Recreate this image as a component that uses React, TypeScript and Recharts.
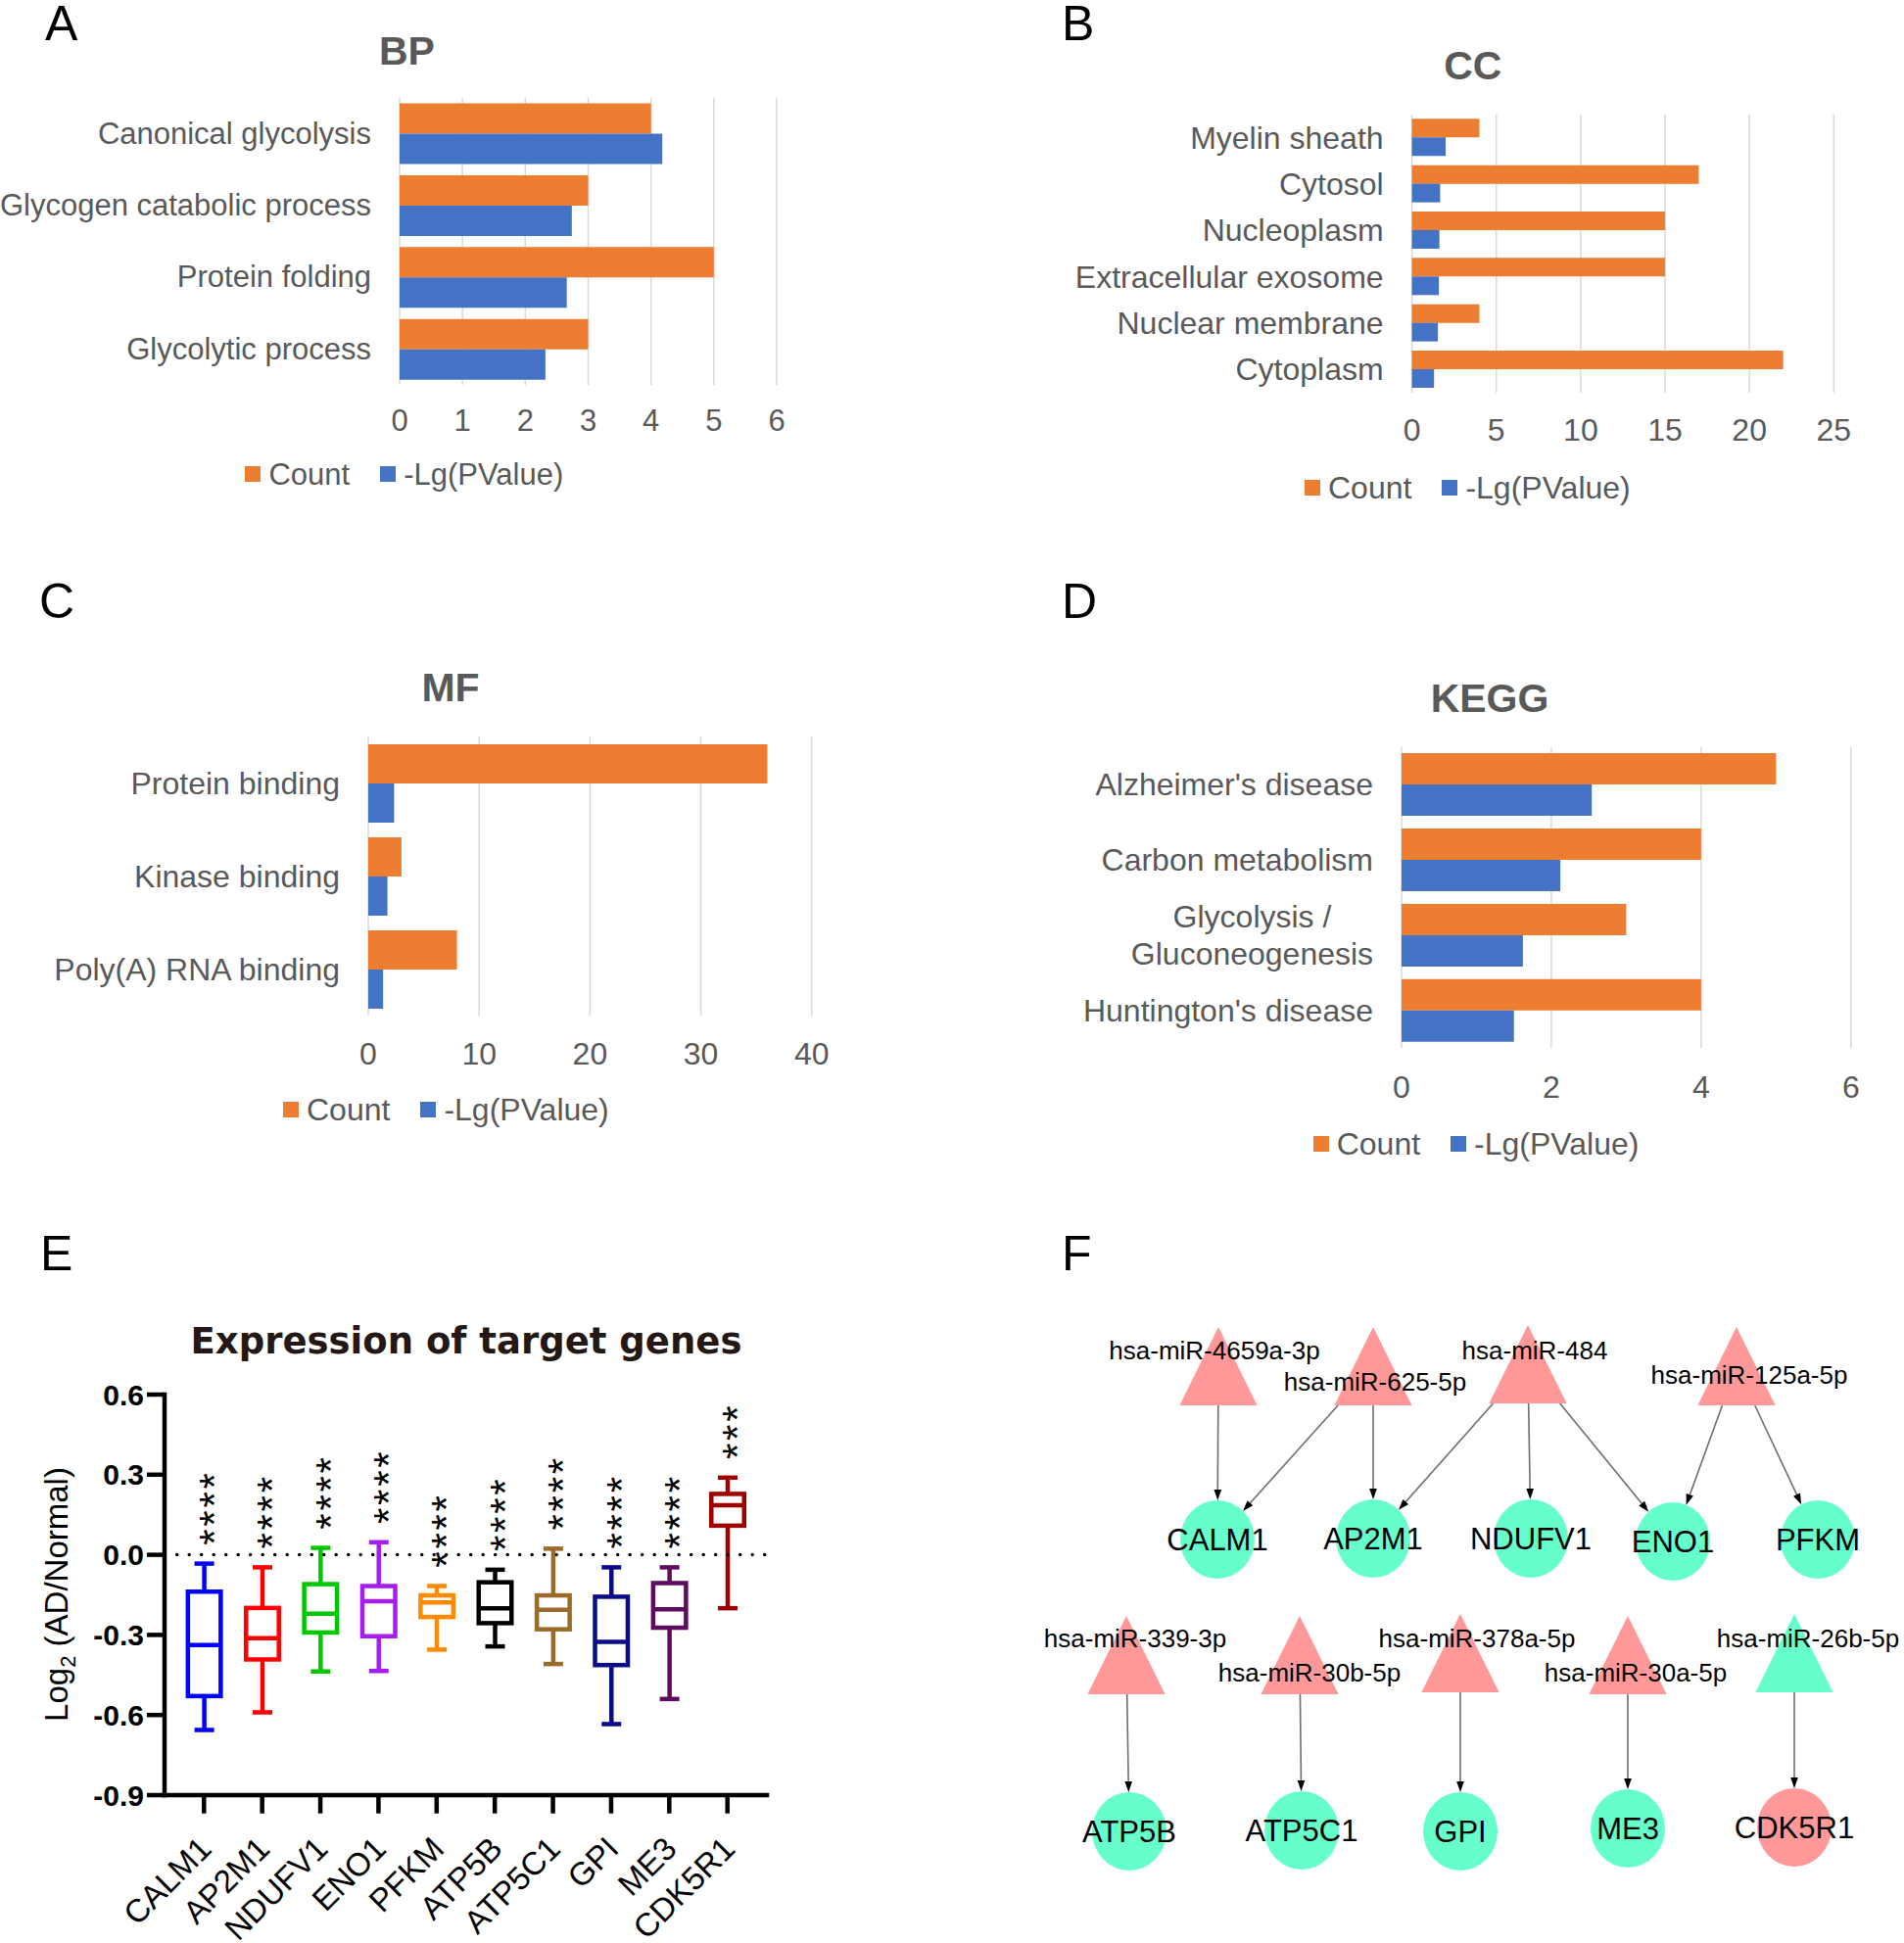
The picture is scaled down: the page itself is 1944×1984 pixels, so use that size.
import React from 'react'
import {
  BarChart, Bar, XAxis, YAxis, CartesianGrid, Legend, ReferenceLine,
  ScatterChart, Scatter,
} from 'recharts'

const FONT = '"Liberation Sans", Arial, Helvetica, sans-serif'
const WIDE = '"DejaVu Sans", Verdana, sans-serif'
const ORANGE = '#ED7D31'
const BLUE = '#4472C4'
const GREY = '#595959'
const GRID = '#D9D9D9'
const PINK = '#FF9999'
const MINT = '#66FFCC'

const seriesNames = ['Count', '-Lg(PValue)']

// A - GO biological process
const bpTerms = ['Canonical glycolysis', 'Glycogen catabolic process', 'Protein folding', 'Glycolytic process']
const bpCount = [4, 3, 5, 3]
const bpLogP = [4.18, 2.74, 2.66, 2.32]
const bpTicks = [0, 1, 2, 3, 4, 5, 6]

// B - GO cellular component
const ccTerms = ['Myelin sheath', 'Cytosol', 'Nucleoplasm', 'Extracellular exosome', 'Nuclear membrane', 'Cytoplasm']
const ccCount = [4, 17, 15, 15, 4, 22]
const ccLogP = [2.0, 1.67, 1.63, 1.6, 1.54, 1.31]
const ccTicks = [0, 5, 10, 15, 20, 25]

// C - GO molecular function
const mfTerms = ['Protein binding', 'Kinase binding', 'Poly(A) RNA binding']
const mfCount = [36, 3, 8]
const mfLogP = [2.33, 1.73, 1.34]
const mfTicks = [0, 10, 20, 30, 40]

// D - KEGG
const keggTerms = ["Alzheimer's disease", 'Carbon metabolism', 'Glycolysis / Gluconeogenesis', "Huntington's disease"]
const keggCount = [5, 4, 3, 4]
const keggLogP = [2.54, 2.12, 1.62, 1.5]
const keggTicks = [0, 2, 4, 6]

// E - expression box plots (log2 AD/Normal)
const genes = ['CALM1', 'AP2M1', 'NDUFV1', 'ENO1', 'PFKM', 'ATP5B', 'ATP5C1', 'GPI', 'ME3', 'CDK5R1']
const geneMin = [-0.656, -0.59, -0.437, -0.435, -0.355, -0.343, -0.409, -0.634, -0.54, -0.2]
const geneQ1 = [-0.529, -0.392, -0.291, -0.305, -0.233, -0.256, -0.279, -0.413, -0.273, 0.109]
const geneMedian = [-0.338, -0.312, -0.221, -0.174, -0.178, -0.2, -0.206, -0.326, -0.204, 0.186]
const geneQ3 = [-0.138, -0.199, -0.11, -0.117, -0.152, -0.103, -0.152, -0.157, -0.106, 0.228]
const geneMax = [-0.033, -0.047, 0.026, 0.047, -0.117, -0.056, 0.023, -0.047, -0.047, 0.289]
const geneStars = ['****', '****', '****', '****', '****', '****', '****', '****', '****', '***']
const exprTicks = [-0.9, -0.6, -0.3, 0, 0.3, 0.6]
const boxColors = ['#0000FF', '#FF0000', '#00C800', '#A61CF2', '#FF8A00', '#000000', '#9C6B29', '#0B0B8A', '#5E0A5E', '#A00000']

// F - miRNA / target network (layout coordinates of the nodes)
const mirNames = ['hsa-miR-4659a-3p', 'hsa-miR-625-5p', 'hsa-miR-484', 'hsa-miR-125a-5p',
  'hsa-miR-339-3p', 'hsa-miR-30b-5p', 'hsa-miR-378a-5p', 'hsa-miR-30a-5p', 'hsa-miR-26b-5p']
const mirX = [284, 442, 600, 813, 190, 367, 531, 702, 872]
const mirY = [175, 175, 173, 175, 470, 470, 468, 470, 468]
const mirReg = ['up', 'up', 'up', 'up', 'up', 'up', 'up', 'up', 'down']
const targetNames = ['CALM1', 'AP2M1', 'NDUFV1', 'ENO1', 'PFKM', 'ATP5B', 'ATP5C1', 'GPI', 'ME3', 'CDK5R1']
const targetX = [283, 442, 603, 748, 896, 193, 369, 531, 702, 872]
const targetY = [352, 351, 351, 354, 352, 650, 649, 650, 647, 646]
const targetReg = ['down', 'down', 'down', 'down', 'down', 'down', 'down', 'down', 'down', 'up']
const edges: [string, string][] = [
  ['hsa-miR-4659a-3p', 'CALM1'], ['hsa-miR-625-5p', 'CALM1'], ['hsa-miR-625-5p', 'AP2M1'],
  ['hsa-miR-484', 'AP2M1'], ['hsa-miR-484', 'NDUFV1'], ['hsa-miR-484', 'ENO1'],
  ['hsa-miR-125a-5p', 'ENO1'], ['hsa-miR-125a-5p', 'PFKM'],
  ['hsa-miR-339-3p', 'ATP5B'], ['hsa-miR-30b-5p', 'ATP5C1'], ['hsa-miR-378a-5p', 'GPI'],
  ['hsa-miR-30a-5p', 'ME3'], ['hsa-miR-26b-5p', 'CDK5R1'],
]

// label offsets for the miRNA names (style only)
const mirLabelOffset: Record<string, [number, number]> = {
  'hsa-miR-4659a-3p': [-4, -16], 'hsa-miR-625-5p': [2, 16], 'hsa-miR-484': [7, -14],
  'hsa-miR-125a-5p': [13, 9], 'hsa-miR-339-3p': [9, -17], 'hsa-miR-30b-5p': [10, 18],
  'hsa-miR-378a-5p': [17, -15], 'hsa-miR-30a-5p': [8, 18], 'hsa-miR-26b-5p': [14, -15],
}

const makeRows = (terms: string[], counts: number[], logP: number[]) =>
  terms.map((term, i) => ({ term, [seriesNames[0]]: counts[i], [seriesNames[1]]: logP[i] }))

const TermTick = ({ x, y, payload, fs }: any) => {
  const parts = String(payload.value).split(' / ')
  if (parts.length === 2) {
    const cx = x - fs * 3.86
    return (
      <g fill={GREY} fontSize={fs} fontFamily={FONT}>
        <text x={cx} y={y - 18.7} textAnchor="middle" dominantBaseline="central">{parts[0] + ' /'}</text>
        <text x={cx} y={y + 18.7} textAnchor="middle" dominantBaseline="central">{parts[1]}</text>
      </g>
    )
  }
  return (
    <text x={x} y={y} textAnchor="end" dominantBaseline="central" fill={GREY} fontSize={fs} fontFamily={FONT}>
      {payload.value}
    </text>
  )
}

const GoLegend = ({ payload, fs }: any) => {
  const items = [...(payload || [])].sort((a: any, b: any) => seriesNames.indexOf(a.value) - seriesNames.indexOf(b.value))
  return (
    <div style={{ display: 'flex', alignItems: 'center', fontFamily: FONT, fontSize: fs, color: GREY, lineHeight: 1, whiteSpace: 'nowrap' }}>
      {items.map((it: any, i: number) => (
        <div key={it.value} style={{ display: 'flex', alignItems: 'center', marginRight: i === 0 ? 31 : 0 }}>
          <span style={{ width: 16, height: 16, background: it.color, marginRight: 8, display: 'inline-block' }} />
          <span>{it.value}</span>
        </div>
      ))}
    </div>
  )
}

interface GoPanelProps {
  rows: any[]
  ticks: number[]
  at: [number, number]
  size: [number, number]
  plot: { l: number; t: number; r: number; b: number }
  fs: number
  gap: number
  xMargin: number
  legendAt: [number, number]
}

const GoPanel = ({ rows, ticks, at, size, plot, fs, gap, xMargin, legendAt }: GoPanelProps) => {
  const [W, H] = size
  const xh = 50
  return (
    <div style={{ position: 'absolute', left: at[0], top: at[1] }}>
      <BarChart
        layout="vertical"
        width={W}
        height={H}
        data={rows}
        margin={{ top: plot.t, right: W - plot.r, bottom: H - plot.b - xh, left: 0 }}
        barGap={0}
        barCategoryGap={gap}
      >
        <CartesianGrid horizontal={false} stroke={GRID} strokeWidth={1.5} />
        <XAxis
          type="number"
          domain={[0, ticks[ticks.length - 1]]}
          ticks={ticks}
          interval={0}
          height={xh}
          axisLine={false}
          tickLine={false}
          tickSize={0}
          tickMargin={xMargin}
          tick={{ fill: GREY, fontSize: fs, fontFamily: FONT }}
        />
        <YAxis
          type="category"
          dataKey="term"
          width={plot.l}
          axisLine={false}
          tickLine={false}
          tickSize={0}
          tickMargin={29}
          interval={0}
          tick={(p: any) => <TermTick {...p} fs={fs} />}
        />
        <Bar dataKey={seriesNames[0]} fill={ORANGE} isAnimationActive={false} />
        <Bar dataKey={seriesNames[1]} fill={BLUE} isAnimationActive={false} />
        <Legend
          layout="horizontal"
          verticalAlign="middle"
          align="center"
          wrapperStyle={{ left: legendAt[0], top: legendAt[1] - fs / 2, width: 'auto', height: 'auto' }}
          content={(p: any) => <GoLegend payload={p.payload} fs={fs} />}
        />
      </BarChart>
    </div>
  )
}

// ---------- E ----------
const exprRows = genes.map((gene, i) => ({
  gene, min: geneMin[i], q1: geneQ1[i], median: geneMedian[i], q3: geneQ3[i], max: geneMax[i], stars: geneStars[i],
}))

const BoxShape = (props: any) => {
  const { x, y, width, height, payload, index } = props
  const top = Math.min(y, y + height)
  const bot = Math.max(y, y + height)
  const { min, q1, median, q3, max, stars } = payload
  const py = (v: number) => bot - ((v - min) / (max - min)) * (bot - top)
  const cx = x + width / 2
  const sw = 4.5
  const half = (width - sw) / 2
  const cap = 10
  const color = boxColors[index % boxColors.length]
  const starFs = 42
  return (
    <g>
      <g stroke={color} strokeWidth={sw} fill="none">
        <line x1={cx} x2={cx} y1={py(max)} y2={py(q3)} />
        <line x1={cx} x2={cx} y1={py(q1)} y2={py(min)} />
        <line x1={cx - cap} x2={cx + cap} y1={py(max)} y2={py(max)} />
        <line x1={cx - cap} x2={cx + cap} y1={py(min)} y2={py(min)} />
        <rect x={cx - half} y={py(q3)} width={2 * half} height={py(q1) - py(q3)} fill="#fff" />
        <line x1={cx - half} x2={cx + half} y1={py(median)} y2={py(median)} />
      </g>
      {String(stars).split('').map((s, i) => {
        const sy = py(max) - 27 - i * 19.1
        return (
          <text key={i} x={cx} y={sy} dy={0.58 * starFs} textAnchor="middle" fontSize={starFs} fontFamily={FONT}
            fill="#000" transform={`rotate(-90 ${cx} ${sy})`}>{s}</text>
        )
      })}
    </g>
  )
}

const GeneTick = ({ x, y, payload }: any) => (
  <text transform={`translate(${x + 9.5},${y + 38}) rotate(-45)`} textAnchor="end" fontSize={33}
    fontFamily={FONT} fill="#000">{payload.value}</text>
)

// ---------- F ----------
const NET_W = 984
const NET_H = 764
const TRI_HALF = 40
const TRI_W = 39.6
const NODE_RX = 38
const NODE_RY = 40

const mirNodes = mirNames.map((name, i) => ({ name, x: mirX[i], y: mirY[i], reg: mirReg[i] }))
const geneNodes = targetNames.map((name, i) => ({ name, x: targetX[i], y: targetY[i], reg: targetReg[i] }))
const nodePos: Record<string, { x: number; y: number }> = {}
mirNodes.forEach((n) => { nodePos[n.name] = { x: n.x, y: n.y } })
geneNodes.forEach((n) => { nodePos[n.name] = { x: n.x, y: n.y } })
const edgeSegments = edges.map(([s, t]) => [nodePos[s], nodePos[t]])

const EdgeShape = (p: any) => {
  const { x1, y1, x2, y2 } = p
  const dx = x2 - x1
  const dy = y2 - y1
  const len = Math.hypot(dx, dy)
  const ux = dx / len
  const uy = dy / len
  const sx = x1 + dx * (TRI_HALF / dy)
  const sy = y1 + TRI_HALF
  const t = 1 / Math.sqrt((ux / NODE_RX) ** 2 + (uy / NODE_RY) ** 2)
  const tx = x2 - ux * t
  const ty = y2 - uy * t
  const AL = 11
  const AW = 3.8
  const bx = tx - ux * AL
  const by = ty - uy * AL
  return (
    <g>
      <line x1={sx} y1={sy} x2={bx} y2={by} stroke="#6E6E6E" strokeWidth={1.6} />
      <polygon points={`${tx},${ty} ${bx - uy * AW},${by + ux * AW} ${bx + uy * AW},${by - ux * AW}`} fill="#000" />
    </g>
  )
}

const TriangleNode = (p: any) => {
  const { cx, cy, payload } = p
  const off = mirLabelOffset[payload.name] || [0, 0]
  return (
    <g>
      <polygon
        points={`${cx},${cy - TRI_HALF} ${cx - TRI_W},${cy + TRI_HALF} ${cx + TRI_W},${cy + TRI_HALF}`}
        fill={payload.reg === 'up' ? PINK : MINT}
      />
      <text x={cx + off[0]} y={cy + off[1]} textAnchor="middle" dominantBaseline="central" fontSize={26}
        fontFamily={FONT} fill="#000">{payload.name}</text>
    </g>
  )
}

const CircleNode = (p: any) => {
  const { cx, cy, payload } = p
  return (
    <g>
      <ellipse cx={cx} cy={cy} rx={NODE_RX} ry={NODE_RY} fill={payload.reg === 'up' ? PINK : MINT} />
      <text x={cx} y={cy} textAnchor="middle" dominantBaseline="central" fontSize={31} fontFamily={FONT}
        fill="#000">{payload.name}</text>
    </g>
  )
}

export default function App() {
  return (
    <div style={{ position: 'absolute', left: 0, top: 0, width: 1944, height: 1984, background: '#fff', fontFamily: FONT, overflow: 'hidden' }}>
      <GoPanel rows={makeRows(bpTerms, bpCount, bpLogP)} ticks={bpTicks} at={[0, 0]} size={[960, 560]}
        plot={{ l: 408, t: 99.5, r: 793, b: 393 }} fs={31} gap={6} xMargin={25.4} legendAt={[250.4, 484]} />
      <GoPanel rows={makeRows(ccTerms, ccCount, ccLogP)} ticks={ccTicks} at={[960, 0]} size={[984, 560]}
        plot={{ l: 481.6, t: 117, r: 912.3, b: 401 }} fs={32} gap={4.3} xMargin={26.5} legendAt={[372, 497.6]} />
      <GoPanel rows={makeRows(mfTerms, mfCount, mfLogP)} ticks={mfTicks} at={[0, 560]} size={[960, 660]}
        plot={{ l: 376, t: 192.2, r: 828.8, b: 477.3 }} fs={32} gap={7.75} xMargin={26.7} legendAt={[289, 573]} />
      <GoPanel rows={makeRows(keggTerms, keggCount, keggLogP)} ticks={keggTicks} at={[960, 560]} size={[984, 660]}
        plot={{ l: 471, t: 202.7, r: 929.8, b: 510.3 }} fs={32} gap={6.4} xMargin={28} legendAt={[380.7, 608]} />

      <div style={{ position: 'absolute', left: 0, top: 1220 }}>
        <BarChart width={960} height={764} data={exprRows} margin={{ top: 204, right: 177, bottom: 91, left: 0 }} barSize={38}>
          <XAxis
            dataKey="gene"
            type="category"
            height={60}
            padding={{ left: 10.6, right: 10.6 }}
            interval={0}
            axisLine={{ stroke: '#000', strokeWidth: 4.5, strokeLinecap: 'square' }}
            tickLine={{ stroke: '#000', strokeWidth: 4.5 }}
            tickSize={18.7}
            tickMargin={0}
            tick={GeneTick}
          />
          <YAxis
            type="number"
            domain={[-0.9, 0.6]}
            ticks={exprTicks}
            allowDataOverflow
            width={168}
            interval={0}
            axisLine={{ stroke: '#000', strokeWidth: 4.5, strokeLinecap: 'square' }}
            tickLine={{ stroke: '#000', strokeWidth: 4.5 }}
            tickSize={18}
            tickMargin={3}
            tickFormatter={(v: number) => v.toFixed(1)}
            tick={{ fill: '#000', fontSize: 30, fontWeight: 700, fontFamily: FONT }}
          />
          <ReferenceLine y={0} stroke="#000" strokeWidth={3.5} strokeDasharray="0 12.5" strokeDashoffset={-0.2} strokeLinecap="round" />
          <Bar dataKey={(d: any) => [d.min, d.max]} shape={BoxShape} isAnimationActive={false} />
        </BarChart>
      </div>

      <div style={{ position: 'absolute', left: 960, top: 1220 }}>
        <ScatterChart width={NET_W} height={NET_H} margin={{ top: 0, right: 0, bottom: 0, left: 0 }}>
          <XAxis type="number" dataKey="x" domain={[0, NET_W]} allowDataOverflow hide />
          <YAxis type="number" dataKey="y" domain={[0, NET_H]} allowDataOverflow reversed hide />
          {edgeSegments.map((seg, i) => (
            <ReferenceLine key={i} segment={seg as any} shape={EdgeShape} ifOverflow="visible" />
          ))}
          <Scatter data={mirNodes} shape={TriangleNode} isAnimationActive={false} />
          <Scatter data={geneNodes} shape={CircleNode} isAnimationActive={false} />
        </ScatterChart>
      </div>

      <svg width={1944} height={1984} style={{ position: 'absolute', left: 0, top: 0, pointerEvents: 'none' }}>
        <g fontFamily={FONT} fontSize={50} fill="#000">
          <text x={46} y={41}>A</text>
          <text x={1084} y={41}>B</text>
          <text x={40} y={631}>C</text>
          <text x={1084} y={631}>D</text>
          <text x={41} y={1297}>E</text>
          <text x={1084} y={1297}>F</text>
        </g>
        <g fontFamily={FONT} fontSize={41} fontWeight={700} fill={GREY} textAnchor="middle">
          <text x={415.5} y={66.3}>BP</text>
          <text x={1503.8} y={81}>CC</text>
          <text x={460} y={716}>MF</text>
          <text x={1521} y={727}>KEGG</text>
        </g>
        <text x={476} y={1382.4} textAnchor="middle" fontFamily={WIDE} fontWeight={700} fontSize={37} fill="#231815">
          Expression of target genes
        </text>
        <text x={69} y={1628} textAnchor="middle" fontFamily={FONT} fontSize={33} fill="#000" transform="rotate(-90 69 1628)">
          Log<tspan fontSize={22} dy={8}>2</tspan><tspan dy={-8}> (AD/Normal)</tspan>
        </text>
      </svg>
    </div>
  )
}
